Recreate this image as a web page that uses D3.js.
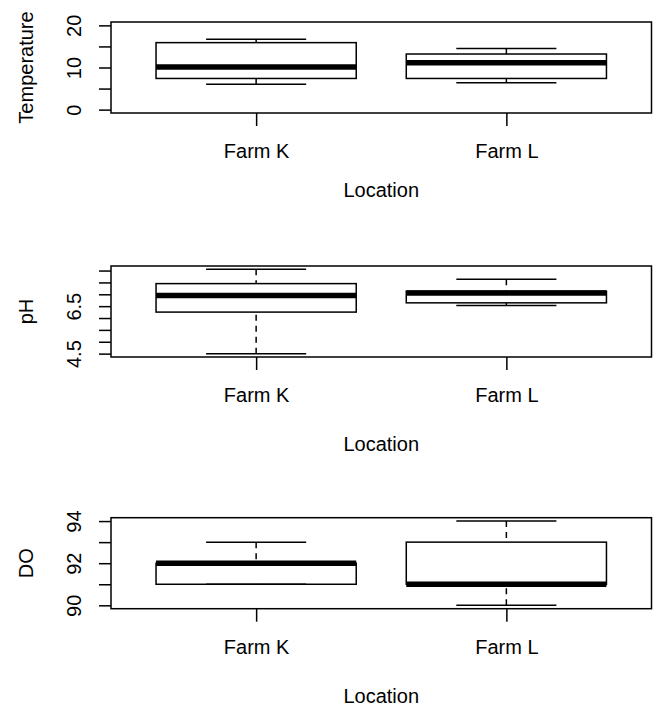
<!DOCTYPE html>
<html>
<head>
<meta charset="utf-8">
<script src="https://cdn.jsdelivr.net/npm/d3@7"></script>
<style>
  body { margin: 0; background: #fff; }
  svg { display: block; }
  text { font-family: "Liberation Sans", Arial, sans-serif; fill: #000; }
</style>
</head>
<body>
<div id="chart"></div>
<script>
// groups on the x axis
const locations = ["Farm K", "Farm L"];

// five number summaries per location: [low whisker, Q1, median, Q3, high whisker]
const temperatureStats = [[6.0, 7.4, 10.1, 15.9, 16.7], [6.4, 7.4, 11.1, 13.2, 14.5]];
const phStats = [[4.5, 6.25, 6.95, 7.45, 8.05], [6.53, 6.64, 7.05, 7.13, 7.63]];
const doStats = [[91, 91, 92, 92, 93], [90, 91, 91, 93, 94]];

// y ticks and which of them carry a label
const temperatureTicks = [0, 5, 10, 15, 20];
const temperatureLabels = [0, 10, 20];
const temperatureLimits = [0, 20];
const phTicks = [4.5, 5, 5.5, 6, 6.5, 7, 7.5, 8];
const phLabels = [4.5, 6.5];
const doTicks = [90, 91, 92, 93, 94];
const doLabels = [90, 92, 94];

const W = 657, H = 706;
const left = 111, right = 651.5, panelH = 91;

const svg = d3.select("#chart").append("svg")
    .attr("width", W)
    .attr("height", H);
svg.append("rect").attr("width", W).attr("height", H).attr("fill", "#fff");

const x = d3.scaleLinear().domain([0.42, 2.58]).range([left, right]);

// R style 4% padding
let padded = (lo, hi) => {
    const d = (hi - lo) * 0.04;
    return [lo - d, hi + d];
};

let drawPanel = (opts) => {
    const top = opts.top, bottom = top + panelH;
    const vals = opts.stats.flat();
    const lim = opts.limits || d3.extent(vals);
    const y = d3.scaleLinear().domain(padded(lim[0], lim[1])).range([bottom, top]);
    const g = svg.append("g");

    // y axis
    const ya = g.append("g")
        .attr("transform", "translate(" + left + ",0)")
        .call(d3.axisLeft(y)
            .tickValues(opts.ticks)
            .tickSizeOuter(0)
            .tickSize(12)
            .tickFormat(d => opts.labels.includes(d) ? String(d) : ""));
    ya.select(".domain").remove();
    ya.selectAll(".tick line").attr("stroke", "#000").attr("stroke-width", 1.5);
    ya.selectAll(".tick text")
        .attr("x", null).attr("dy", null)
        .attr("text-anchor", "middle")
        .attr("transform", "translate(-30,0) rotate(-90)")
        .style("font-size", "20px")
        .style("font-family", '"Liberation Sans", Arial, sans-serif');

    // x axis
    const xa = g.append("g")
        .attr("transform", "translate(0," + bottom + ")")
        .call(d3.axisBottom(x)
            .tickValues([1, 2])
            .tickSizeOuter(0)
            .tickSize(13)
            .tickFormat((d, i) => locations[i]));
    xa.select(".domain").remove();
    xa.selectAll(".tick line").attr("stroke", "#000").attr("stroke-width", 1.5);
    xa.selectAll(".tick text")
        .attr("y", 45).attr("dy", null)
        .style("font-size", "20px")
        .style("font-family", '"Liberation Sans", Arial, sans-serif');

    // boxes
    opts.stats.forEach((s, i) => {
        const c = i + 1;
        const bg = g.append("g");
        // whiskers, drawn from whisker end to hinge
        bg.append("line")
            .attr("x1", x(c)).attr("x2", x(c))
            .attr("y1", y(s[0])).attr("y2", y(s[1]))
            .attr("stroke", "#000").attr("stroke-width", 1.5)
            .attr("stroke-dasharray", "6,5");
        bg.append("line")
            .attr("x1", x(c)).attr("x2", x(c))
            .attr("y1", y(s[4])).attr("y2", y(s[3]))
            .attr("stroke", "#000").attr("stroke-width", 1.5)
            .attr("stroke-dasharray", "6,5");
        // staples
        [s[0], s[4]].forEach(v => {
            bg.append("line")
                .attr("x1", x(c - 0.2)).attr("x2", x(c + 0.2))
                .attr("y1", y(v)).attr("y2", y(v))
                .attr("stroke", "#000").attr("stroke-width", 1.5);
        });
        bg.append("rect")
            .attr("x", x(c - 0.4))
            .attr("y", y(s[3]))
            .attr("width", x(c + 0.4) - x(c - 0.4))
            .attr("height", y(s[1]) - y(s[3]))
            .attr("fill", "none")
            .attr("stroke", "#000").attr("stroke-width", 1.5);
        bg.append("line")
            .attr("x1", x(c - 0.4)).attr("x2", x(c + 0.4))
            .attr("y1", y(s[2])).attr("y2", y(s[2]))
            .attr("stroke", "#000").attr("stroke-width", 5.5);
    });

    // frame
    g.append("rect")
        .attr("x", left).attr("y", top)
        .attr("width", right - left).attr("height", panelH)
        .attr("fill", "none")
        .attr("stroke", "#000").attr("stroke-width", 1.5);

    // titles
    g.append("text")
        .attr("transform", "translate(33," + (top + panelH / 2) + ") rotate(-90)")
        .attr("text-anchor", "middle")
        .style("font-size", "20px")
        .text(opts.ylab);
    g.append("text")
        .attr("x", (left + right) / 2)
        .attr("y", opts.xlabY)
        .attr("text-anchor", "middle")
        .style("font-size", "20px")
        .text("Location");
};

drawPanel({ top: 22, stats: temperatureStats, ticks: temperatureTicks, labels: temperatureLabels,
    limits: temperatureLimits, ylab: "Temperature", xlabY: 196.7 });
drawPanel({ top: 266, stats: phStats, ticks: phTicks, labels: phLabels,
    ylab: "pH", xlabY: 451 });
drawPanel({ top: 517.7, stats: doStats, ticks: doTicks, labels: doLabels,
    ylab: "DO", xlabY: 702.5 });
</script>
</body>
</html>
